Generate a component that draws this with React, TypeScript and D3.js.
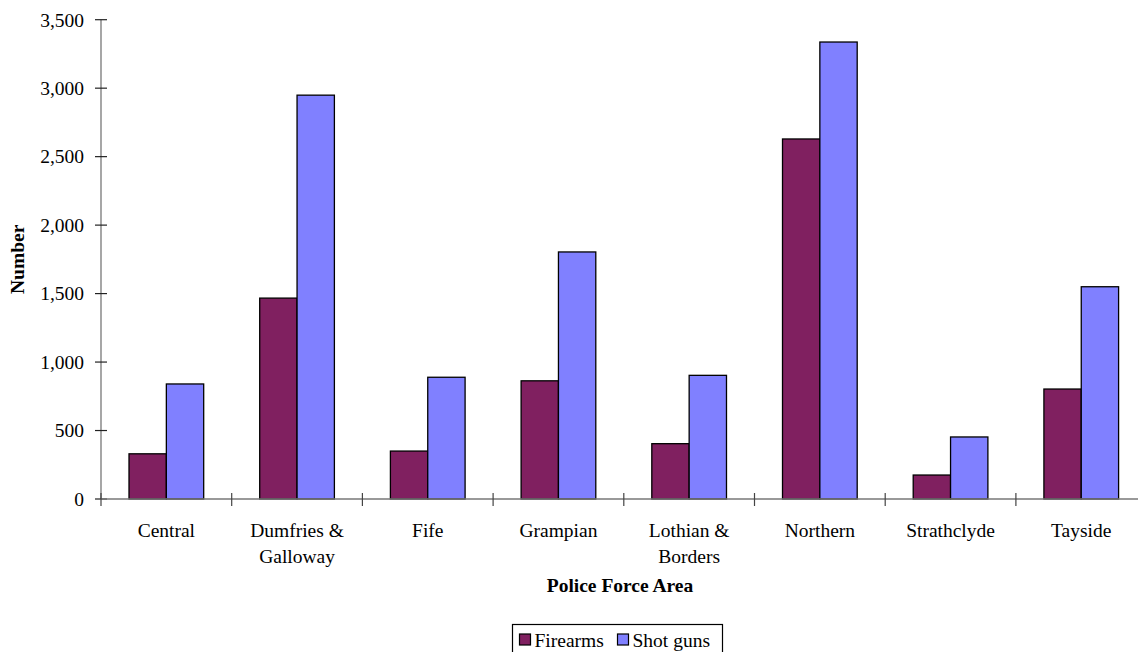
import React from "react";
import * as d3 from "d3";

const categories = ["Central", "Dumfries & Galloway", "Fife", "Grampian", "Lothian & Borders", "Northern", "Strathclyde", "Tayside"];
const categoryLabelLines = [["Central"], ["Dumfries &", "Galloway"], ["Fife"], ["Grampian"], ["Lothian &", "Borders"], ["Northern"], ["Strathclyde"], ["Tayside"]];
const seriesNames = ["Firearms", "Shot guns"];
const firearms = [330, 1467, 350, 863, 404, 2629, 175, 803];
const shotGuns = [840, 2949, 889, 1804, 903, 3337, 453, 1550];
const yTicks = [0, 500, 1000, 1500, 2000, 2500, 3000, 3500];
const colors = ["#802060", "#8080FF"];

const W = 1138;
const H = 652;
const FONT = "'Liberation Serif', 'Times New Roman', serif";

export default function App() {
  const left = 101;
  const right = 1146.6;
  const top = 19.7;
  const bottom = 499;

  const x0 = d3.scaleBand<string>().domain(categories).range([left, right]).padding(0);
  const x1 = d3.scaleBand<string>().domain(seriesNames).range([0, x0.bandwidth()]).paddingInner(0).paddingOuter(0.75);
  const y = d3.scaleLinear().domain([0, 3500]).range([bottom, top]);
  const fmt = d3.format(",");
  const seriesValues = [firearms, shotGuns];

  const tickXs = d3.range(categories.length + 1).map((i) => left + i * x0.step());

  return (
    <svg width={W} height={H} style={{ position: "absolute", left: 0, top: 0, background: "#fff" }} fontFamily={FONT}>
      <rect x={0} y={0} width={W} height={H} fill="#fff" />
      {/* bars */}
      {categories.map((c, i) => (
        <g key={c} transform={`translate(${x0(c)},0)`}>
          {seriesNames.map((s, j) => (
            <rect
              key={s}
              x={x1(s)}
              y={y(seriesValues[j][i])}
              width={x1.bandwidth()}
              height={y(0) - y(seriesValues[j][i])}
              fill={colors[j]}
              stroke="#000"
              strokeWidth={1.3}
            />
          ))}
        </g>
      ))}
      {/* y axis */}
      <line x1={left} x2={left} y1={top} y2={bottom} stroke="#777" strokeWidth={1.3} />
      {yTicks.map((t) => (
        <g key={t}>
          <line x1={95} x2={107} y1={y(t)} y2={y(t)} stroke="#222" strokeWidth={1.2} />
          <text x={84} y={y(t)} dy="0.35em" textAnchor="end" fontSize={19.5} fill="#000">
            {fmt(t)}
          </text>
        </g>
      ))}
      {/* x axis */}
      <line x1={left} x2={W} y1={bottom} y2={bottom} stroke="#777" strokeWidth={1.3} />
      {tickXs.map((tx, i) => (
        <line key={i} x1={tx} x2={tx} y1={493} y2={506} stroke="#444" strokeWidth={1.2} />
      ))}
      {categories.map((c, i) => (
        <text key={c} x={(x0(c) as number) + x0.bandwidth() / 2} y={537} textAnchor="middle" fontSize={19.5} fill="#000">
          {categoryLabelLines[i].map((ln, k) => (
            <tspan key={k} x={(x0(c) as number) + x0.bandwidth() / 2} dy={k === 0 ? 0 : 26}>
              {ln}
            </tspan>
          ))}
        </text>
      ))}
      {/* axis titles */}
      <text x={620} y={592} textAnchor="middle" fontSize={19.5} fontWeight="bold" fill="#000">
        Police Force Area
      </text>
      <text transform={`translate(24,${(top + bottom) / 2}) rotate(-90)`} textAnchor="middle" fontSize={19.5} fontWeight="bold" fill="#000">
        Number
      </text>
      {/* legend */}
      <rect x={512.5} y={624.5} width={210} height={40} fill="#fff" stroke="#000" strokeWidth={1.2} />
      {seriesNames.map((s, j) => {
        const lx = j === 0 ? 519.5 : 617.5;
        return (
          <g key={s}>
            <rect x={lx} y={634} width={11} height={11} fill={colors[j]} stroke="#000" strokeWidth={1.2} />
            <text x={lx + 15} y={646.5} fontSize={19.5} fill="#000">
              {s}
            </text>
          </g>
        );
      })}
    </svg>
  );
}
